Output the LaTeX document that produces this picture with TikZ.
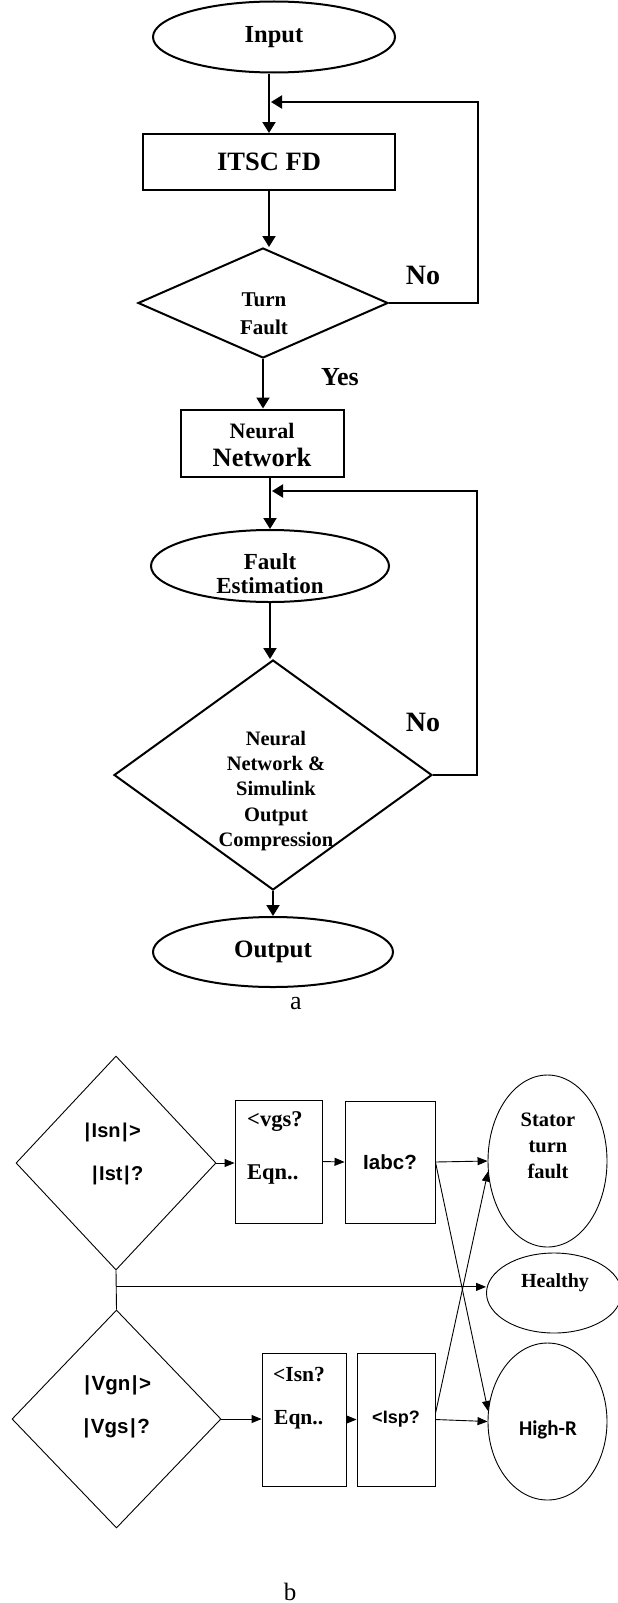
\documentclass[tikz,border=0pt]{standalone}
\usepackage{fontspec}
\setmainfont{Liberation Serif}
\newfontfamily\arialfont{Liberation Sans}
\newfontfamily\calibfont{Carlito}
\usetikzlibrary{shapes.geometric,arrows.meta,calc}
\newcommand\pp{\kern1.5pt|\kern1.5pt}
\begin{document}
\begin{tikzpicture}[x=1pt,y=-1pt,
  lna/.style={line width=2pt},
  arra/.style={lna,-{Triangle[length=11pt,width=13pt]}},
  lnb/.style={line width=0.9pt},
  arrb/.style={lnb,-{Triangle[length=10pt,width=8pt]}},
  ella/.style={ellipse,draw,lna,inner sep=0pt},
  boxa/.style={rectangle,draw,lna,inner sep=0pt},
  diaa/.style={diamond,draw,lna,inner sep=0pt},
  ellb/.style={ellipse,draw,lnb,inner sep=0pt},
  boxb/.style={rectangle,draw,lnb,inner sep=0pt},
  diab/.style={diamond,draw,lnb,inner sep=0pt},
  txt/.style={inner sep=0pt,align=center},
  sfb/.style={font=\arialfont\bfseries\fontsize{#1}{#1}\selectfont},
  rmb/.style={font=\bfseries\fontsize{#1}{#1}\selectfont},
]
\useasboundingbox (0,0) rectangle (618,1603);

% ---------- part a ----------
\node[ella,minimum width=242pt,minimum height=71pt,rmb=24.5] (input) at (274,37) {Input};
\node[boxa,minimum width=252pt,minimum height=56pt,rmb=26.5] (itsc) at (269,162) {ITSC FD};
\node[diaa,minimum width=250pt,minimum height=110pt] (tf) at (263,303) {};
\node[txt,font=\bfseries\fontsize{21}{28}\selectfont] (tftext) at (264,314) {Turn\\Fault};
\node[txt,rmb=28] (no1) at (423,275) {No};
\node[txt,rmb=26] (yes) at (340,377) {Yes};
\node[boxa,minimum width=163pt,minimum height=67pt] (nn) at (262,443) {};
\node[txt,font=\bfseries\fontsize{22}{28}\selectfont] (nntext) at (262,445) {Neural\\\fontsize{26.5}{28}\selectfont Network};
\node[ella,minimum width=238pt,minimum height=72pt] (fe) at (270,566) {};
\node[txt,font=\bfseries\fontsize{23}{24}\selectfont] (fetext) at (270,574) {Fault\\Estimation};
\node[diaa,minimum width=318pt,minimum height=230pt] (cmp) at (273,775) {};
\node[txt,font=\bfseries\fontsize{20.5}{25.3}\selectfont] (cmptext) at (276,791) {Neural\\Network \&\\Simulink\\Output\\Compression};
\node[txt,rmb=28] (no2) at (423,722) {No};
\node[ella,minimum width=240pt,minimum height=70pt,rmb=25] (out) at (273,952) {Output};
\node[txt,font=\fontsize{26}{26}\selectfont] (lbla) at (296,1004) {a};

\coordinate (fb1) at (271,102);
\coordinate (fb2) at (272,491);

\draw[arra] (itsc.north |- input.south) -- (itsc.north);
\draw[arra] (itsc.south) -- (itsc.south |- tf.north);
\draw[arra] (tf.south) -- (tf.south |- nn.north);
\draw[arra] (fe.north |- nn.south) -- (fe.north);
\draw[arra] (fe.south) -- (fe.south |- cmp.north);
\draw[arra] (cmp.south) -- (cmp.south |- out.north);
\draw[arra] (tf.east) -- ++(89,0) |- (fb1);
\draw[arra] (cmp.east) -- ++(44,0) |- (fb2);

% ---------- part b ----------
\node[diab,minimum width=200pt,minimum height=214pt] (d1) at (116,1163) {};
\node[txt,sfb=20] (d1a) at (112,1132) {\pp Isn\pp>};
\node[txt,sfb=20] (d1b) at (117,1175) {\pp Ist\pp?};
\node[boxb,minimum width=87pt,minimum height=123pt] (b1) at (278.5,1161.5) {};
\node[txt,anchor=west,rmb=22.5] (b1a) at (247,1122) {<vgs?};
\node[txt,anchor=west,rmb=22.5] (b1b) at (247,1175) {Eqn..};
\node[boxb,minimum width=90pt,minimum height=122pt,sfb=20.5] (b2) at (390,1162) {Iabc?};
\node[ellb,minimum width=119pt,minimum height=172pt] (st) at (547.5,1161) {};
\node[txt,font=\bfseries\fontsize{20.5}{26}\selectfont] (sttext) at (548,1146) {Stator\\turn\\fault};
\node[ellb,minimum width=135pt,minimum height=80pt] (hl) at (554,1293) {};
\node[txt,rmb=20] (hltext) at (555,1283) {Healthy};

\node[diab,minimum width=209pt,minimum height=218pt] (d2) at (116.5,1419) {};
\node[txt,sfb=20.5] (d2a) at (117,1385) {\pp Vgn\pp>};
\node[txt,sfb=20.5] (d2b) at (116,1428) {\pp Vgs\pp?};
\node[boxb,minimum width=84pt,minimum height=133pt] (b3) at (304,1419.5) {};
\node[txt,anchor=west,rmb=21.5] (b3a) at (273,1375) {<Isn?};
\node[txt,anchor=west,rmb=21.5] (b3b) at (274,1420) {Eqn..};
\node[boxb,minimum width=78pt,minimum height=133pt,sfb=18] (b4) at (396,1419.5) {<Isp?};
\node[ellb,minimum width=119pt,minimum height=157pt] (hr) at (547.5,1421.5) {};
\node[txt,font=\calibfont\bfseries\fontsize{21}{21}\selectfont] (hrtext) at (548,1430) {High-R};
\node[txt,font=\fontsize{25}{25}\selectfont] (lblb) at (290,1592) {b};

\coordinate (jn) at ($(d1.south)!0.42!(d2.north)$);
\draw[arrb] (d1.east) -- (b1.west |- d1.east);
\draw[arrb] (b1.east) -- (b2.west);
\draw[arrb] (b2.east) -- (st.west);
\draw[arrb] (b2.east) -- (hr.170);
\draw[arrb] ([yshift=6pt]b4.east) -- (st.190);
\draw[arrb] (b4.east) -- (hr.west);
\draw[lnb] (d1.south) -- (d2.north);
\draw[arrb] (jn) -- (jn -| hl.west);
\draw[arrb] (d2.east) -- (b3.west |- d2.east);
\draw[arrb] (b3.east) -- (b4.west);
\end{tikzpicture}
\end{document}
